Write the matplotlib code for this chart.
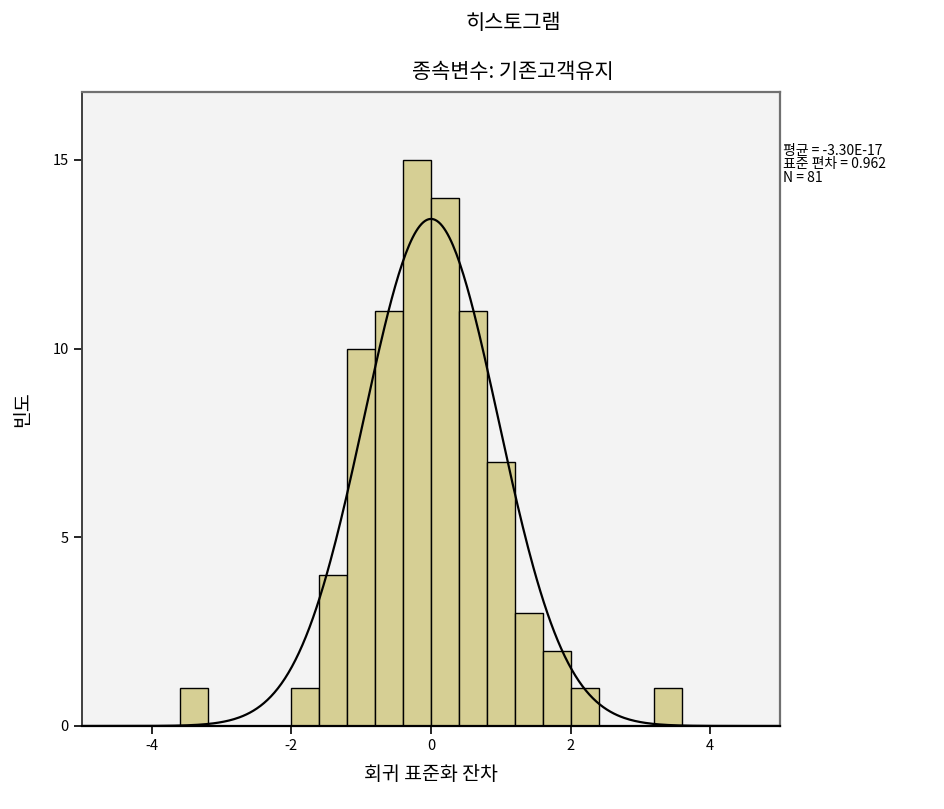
import numpy as np
import matplotlib
matplotlib.use('Agg')
from matplotlib import pyplot as plt

plt.rcParams['font.family'] = ['Noto Sans CJK KR', 'DejaVu Sans']
plt.rcParams['axes.unicode_minus'] = False

# 회귀 표준화 잔차 구간(폭 0.4)과 빈도
bin_edges = [-3.6, -3.2, -2.8, -2.4, -2.0, -1.6, -1.2, -0.8, -0.4, 0.0,
             0.4, 0.8, 1.2, 1.6, 2.0, 2.4, 2.8, 3.2, 3.6]
counts = [1, 0, 0, 0, 1, 4, 10, 11, 15, 14, 11, 7, 3, 2, 1, 0, 0, 1]

mean = -3.30e-17
std = 0.962
n = 81
bin_width = 0.4

fig = plt.figure(figsize=(9.45, 8.09), dpi=100)
ax = fig.add_axes([0.0868, 0.1026, 0.7386, 0.7837])
ax.set_facecolor('#F3F3F3')

lefts = bin_edges[:-1]
ax.bar(lefts, counts, width=bin_width, align='edge', color='#D6CF94',
       edgecolor='black', linewidth=1.0)

# 정규분포 곡선
xs = np.linspace(-5, 5, 400)
ys = n * bin_width / (std * np.sqrt(2 * np.pi)) * np.exp(-0.5 * ((xs - mean) / std) ** 2)
ax.plot(xs, ys, color='black', linewidth=1.6)

ax.set_xlim(-5, 5)
ax.set_ylim(0, 16.8)
ax.set_xticks([-4, -2, 0, 2, 4])
ax.set_yticks([0, 5, 10, 15])
ax.tick_params(direction='out', length=6, width=1.2, labelsize=10.5, colors='black')

for side in ['top', 'right']:
    ax.spines[side].set_color('#707070')
    ax.spines[side].set_linewidth(1.6)
ax.spines['left'].set_color('#404040')
ax.spines['left'].set_linewidth(1.4)
ax.spines['bottom'].set_color('black')
ax.spines['bottom'].set_linewidth(1.6)

ax.set_xlabel('회귀 표준화 잔차', fontsize=14, labelpad=8)
ax.set_ylabel('빈도', fontsize=14, labelpad=14)

fig.text(0.543, 0.972, '히스토그램', ha='center', va='center', fontsize=15)
fig.text(0.543, 0.911, '종속변수: 기존고객유지', ha='center', va='center', fontsize=15)

fig.text(0.829, 0.822, '평균 = -3.30E-17\n표준 편차 = 0.962\nN = 81',
         ha='left', va='top', fontsize=10, linespacing=0.95)

plt.savefig('out.png', dpi=100)
plt.close('all')
